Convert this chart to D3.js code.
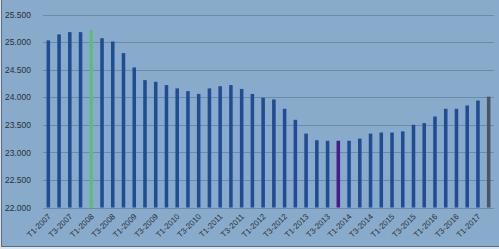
<!DOCTYPE html>
<html>
<head>
<meta charset="utf-8">
<script src="https://cdn.jsdelivr.net/npm/d3@7"></script>
<style>
  body { margin: 0; background: #dde5ee; }
  svg { display: block; }
  text { font-family: "Liberation Sans", "DejaVu Sans", sans-serif; }
</style>
</head>
<body>
<div id="chart"></div>
<script>
// trimestres T1-2007 .. T2-2017
const years = d3.range(2007, 2018);
const quarters = [];
years.forEach(y => {
    for (let q = 1; q <= 4; q++) {
        if (y === 2017 && q > 2) break;
        quarters.push(`T${q}-${y}`);
    }
});

// valeurs (milliers)
const values = [
    25.03, 25.14, 25.18, 25.18, 25.22, 25.07, 25.01, 24.80, 24.54, 24.31,
    24.28, 24.22, 24.16, 24.11, 24.06, 24.16, 24.20, 24.22, 24.15, 24.06,
    23.99, 23.96, 23.79, 23.59, 23.34, 23.22, 23.21, 23.21, 23.21, 23.25,
    23.34, 23.36, 23.36, 23.38, 23.50, 23.53, 23.65, 23.79, 23.79, 23.85,
    23.94, 24.01
];

const yTicks = [22, 22.5, 23, 23.5, 24, 24.5, 25, 25.5];

// barres mises en évidence
const highlight = {"T1-2008": "#5fba7d", "T4-2013": "#4a1a8a", "T2-2017": "#4b5662"};

const width = 499;
const height = 249;

const svg = d3.select("#chart").append("svg")
    .attr("width", width)
    .attr("height", height);

// cadre
svg.append("rect")
    .attr("x", 1.5).attr("y", -1)
    .attr("width", width + 2).attr("height", 247.5)
    .attr("fill", "#89abcb")
    .attr("stroke", "#5c6c7a");

const x = d3.scaleBand()
    .domain(quarters)
    .range([43, 494])
    .paddingInner(0.67)
    .paddingOuter(0.33);

const y = d3.scaleLinear()
    .domain([22, 25.5])
    .range([207.5, 14.5]);

// grille
svg.append("g")
    .selectAll("line")
    .data(yTicks)
    .join("line")
    .attr("x1", 43).attr("x2", 494)
    .attr("y1", d => Math.round(y(d)) + 0.5)
    .attr("y2", d => Math.round(y(d)) + 0.5)
    .attr("stroke", "#6b8ba8")
    .attr("stroke-width", 1.2);

// axe y
const fmt = d => d3.format(".3f")(d).replace(",", ".");
const yAxis = svg.append("g")
    .attr("transform", "translate(31,0)")
    .call(d3.axisLeft(y).tickValues(yTicks).tickFormat(fmt).tickSize(0).tickPadding(0));
yAxis.select(".domain").remove();
yAxis.selectAll("text")
    .attr("font-size", 8.5)
    .attr("fill", "#2b2f33");

// barres
svg.append("g")
    .selectAll("rect")
    .data(quarters)
    .join("rect")
    .attr("x", d => x(d))
    .attr("y", (d, i) => y(values[i]))
    .attr("width", x.bandwidth())
    .attr("height", (d, i) => y(22) - y(values[i]))
    .attr("fill", d => highlight[d] || "#1f4c95");

// axe x (un libellé sur deux)
const xAxis = svg.append("g")
    .attr("transform", "translate(0,207)")
    .call(d3.axisBottom(x).tickValues(quarters.filter((d, i) => i % 2 === 0)).tickSize(0).tickPadding(0));
xAxis.select(".domain").remove();
xAxis.selectAll("text")
    .attr("font-size", 8)
    .attr("fill", "#2b2f33")
    .attr("text-anchor", "end")
    .attr("dy", 0)
    .attr("transform", "translate(3,10) rotate(-45)");
</script>
</body>
</html>
